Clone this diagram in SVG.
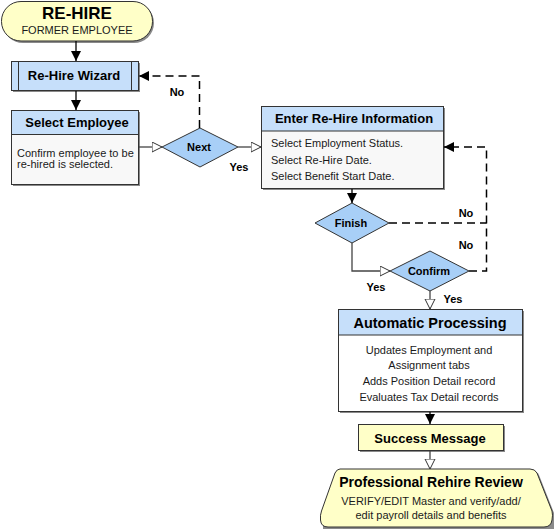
<svg xmlns="http://www.w3.org/2000/svg" width="555" height="530" viewBox="0 0 555 530">
<defs>
<marker id="af" markerUnits="userSpaceOnUse" markerWidth="11" markerHeight="11" refX="10" refY="5" orient="auto"><path d="M0,0 L10,5 L0,10 Z" fill="#000"/></marker>
<marker id="ao" markerUnits="userSpaceOnUse" markerWidth="12" markerHeight="12" refX="10.5" refY="5.5" orient="auto"><path d="M0.5,0.5 L10.5,5.5 L0.5,10.5 Z" fill="#fff" stroke="#333" stroke-width="1"/></marker>
</defs>
<style>
.sh{fill:#8a8a8a}
.box{stroke:#333;stroke-width:1}
.yel{fill:#FFFFC8}
.hdr{fill:#C6DFFA}
.body{fill:#F8F8F8}
.dia{fill:#A8CFF7;stroke:#333;stroke-width:1}
.bt{font-family:"Liberation Sans",Arial,sans-serif;font-weight:bold;fill:#000}
.t{font-family:"Liberation Sans",Arial,sans-serif;fill:#1a1a1a;font-size:11px}
.c{text-anchor:middle}
.solid{fill:none;stroke:#000;stroke-width:1.3}
.grey{fill:none;stroke:#444;stroke-width:1.3}
.dash{fill:none;stroke:#000;stroke-width:1.5;stroke-dasharray:8,5}
.lbl{font-family:"Liberation Sans",Arial,sans-serif;font-weight:bold;font-size:11px;fill:#000}
</style>

<g id="start">
<rect x="3" y="3" width="151" height="40" rx="20" class="sh"/>
<rect x="1.5" y="1.5" width="151" height="39.5" rx="19.5" class="box yel"/>
<text x="77" y="19" class="bt c" font-size="17">RE-HIRE</text>
<text x="77" y="34" class="t c" font-size="11.5">FORMER EMPLOYEE</text>
</g>

<g id="wizard">
<rect x="13" y="63" width="127" height="29" class="sh"/>
<rect x="11.5" y="61.5" width="127" height="29" class="box hdr"/>
<line x1="18.5" y1="61.5" x2="18.5" y2="90.5" stroke="#333"/>
<line x1="131.5" y1="61.5" x2="131.5" y2="90.5" stroke="#333"/>
<text x="74" y="80" class="bt c" font-size="13">Re-Hire Wizard</text>
</g>

<g id="select-employee">
<rect x="13" y="112" width="127" height="74" class="sh"/>
<rect x="11.5" y="110.5" width="127" height="74" class="box body"/>
<rect x="11.5" y="110.5" width="127" height="24" class="box hdr"/>
<text x="77" y="127" class="bt c" font-size="13">Select Employee</text>
<text x="17" y="157" class="t">Confirm employee to be</text>
<text x="17" y="168" class="t">re-hired is selected.</text>
</g>

<g id="next">
<polygon points="162,147 200,128 238,147 200,167" class="dia"/>
<text x="199" y="151" class="bt c" font-size="11">Next</text>
</g>

<g id="enter-info">
<rect x="263" y="108" width="182" height="82" class="sh"/>
<rect x="261.5" y="106.5" width="182" height="82" class="box body"/>
<rect x="261.5" y="106.5" width="182" height="24.5" class="box hdr"/>
<text x="354" y="123" class="bt c" font-size="13">Enter Re-Hire Information</text>
<text x="271" y="147" class="t">Select Employment Status.</text>
<text x="271" y="164" class="t">Select Re-Hire Date.</text>
<text x="271" y="180" class="t">Select Benefit Start Date.</text>
</g>

<g id="finish">
<polygon points="315,223 352,203 389,223 352,243" class="dia"/>
<text x="351" y="227" class="bt c" font-size="11">Finish</text>
</g>

<g id="confirm">
<polygon points="390,271 430,251 469,271 430,291" class="dia"/>
<text x="429" y="275" class="bt c" font-size="11">Confirm</text>
</g>

<g id="auto-processing">
<rect x="340" y="311" width="184" height="102" class="sh"/>
<rect x="338.5" y="309.5" width="184" height="102" class="box" fill="#fff"/>
<rect x="338.5" y="309.5" width="184" height="25.5" class="box hdr"/>
<text x="430" y="328" class="bt c" font-size="14.5">Automatic Processing</text>
<text x="429" y="354" class="t c">Updates Employment and</text>
<text x="429" y="369" class="t c">Assignment tabs</text>
<text x="429" y="385" class="t c">Adds Position Detail record</text>
<text x="429" y="401" class="t c">Evaluates Tax Detail records</text>
</g>

<g id="success">
<rect x="360" y="426" width="145" height="26" class="sh"/>
<rect x="358.5" y="424.5" width="145" height="26" class="box yel"/>
<text x="430" y="443" class="bt c" font-size="13">Success Message</text>
</g>

<g id="review">
<path d="M342,471 L532,471 Q537,471 539,475 L554,513 L554,529 L323,529 L323,513 L337,475 Q339,471 342,471 Z" class="sh"/>
<path d="M340,469 L530,469 Q535,469 537,473 L552,511 Q553,515 552,520 Q551,527 544,527 L328,527 Q321,527 320.5,520 Q320,515 321.5,511 L335,473 Q337,469 340,469 Z" class="box yel"/>
<text x="431" y="487" class="bt c" font-size="14">Professional Rehire Review</text>
<text x="431" y="505" class="t c">VERIFY/EDIT Master and verify/add/</text>
<text x="431" y="519" class="t c">edit payroll details and benefits</text>
</g>

<g id="connectors">
<line x1="76" y1="41" x2="76" y2="61" class="solid" marker-end="url(#af)"/>
<line x1="76" y1="91" x2="76" y2="110" class="solid" marker-end="url(#af)"/>
<line x1="139" y1="147" x2="162" y2="147" class="grey" marker-end="url(#ao)"/>
<polyline points="199.5,128 199.5,76 139,76" class="dash" marker-end="url(#af)"/>
<line x1="238" y1="147" x2="261" y2="147" class="grey" marker-end="url(#ao)"/>
<line x1="352" y1="189" x2="352" y2="203" class="solid" marker-end="url(#af)"/>
<polyline points="352,243 352,271 390,271" class="grey" marker-end="url(#ao)"/>
<line x1="389" y1="223" x2="486.5" y2="223" class="dash"/>
<polyline points="469,271 486.5,271 486.5,147 444,147" class="dash" marker-end="url(#af)"/>
<line x1="430" y1="291" x2="430" y2="309" class="grey" marker-end="url(#ao)"/>
<line x1="430" y1="412" x2="430" y2="424" class="solid" marker-end="url(#af)"/>
<line x1="430" y1="451" x2="430" y2="469" class="grey" marker-end="url(#ao)"/>
<text x="177" y="96" class="lbl c">No</text>
<text x="239" y="171" class="lbl c">Yes</text>
<text x="466" y="217" class="lbl c">No</text>
<text x="466" y="249" class="lbl c">No</text>
<text x="376" y="291" class="lbl c">Yes</text>
<text x="453" y="303" class="lbl c">Yes</text>
</g>
</svg>
